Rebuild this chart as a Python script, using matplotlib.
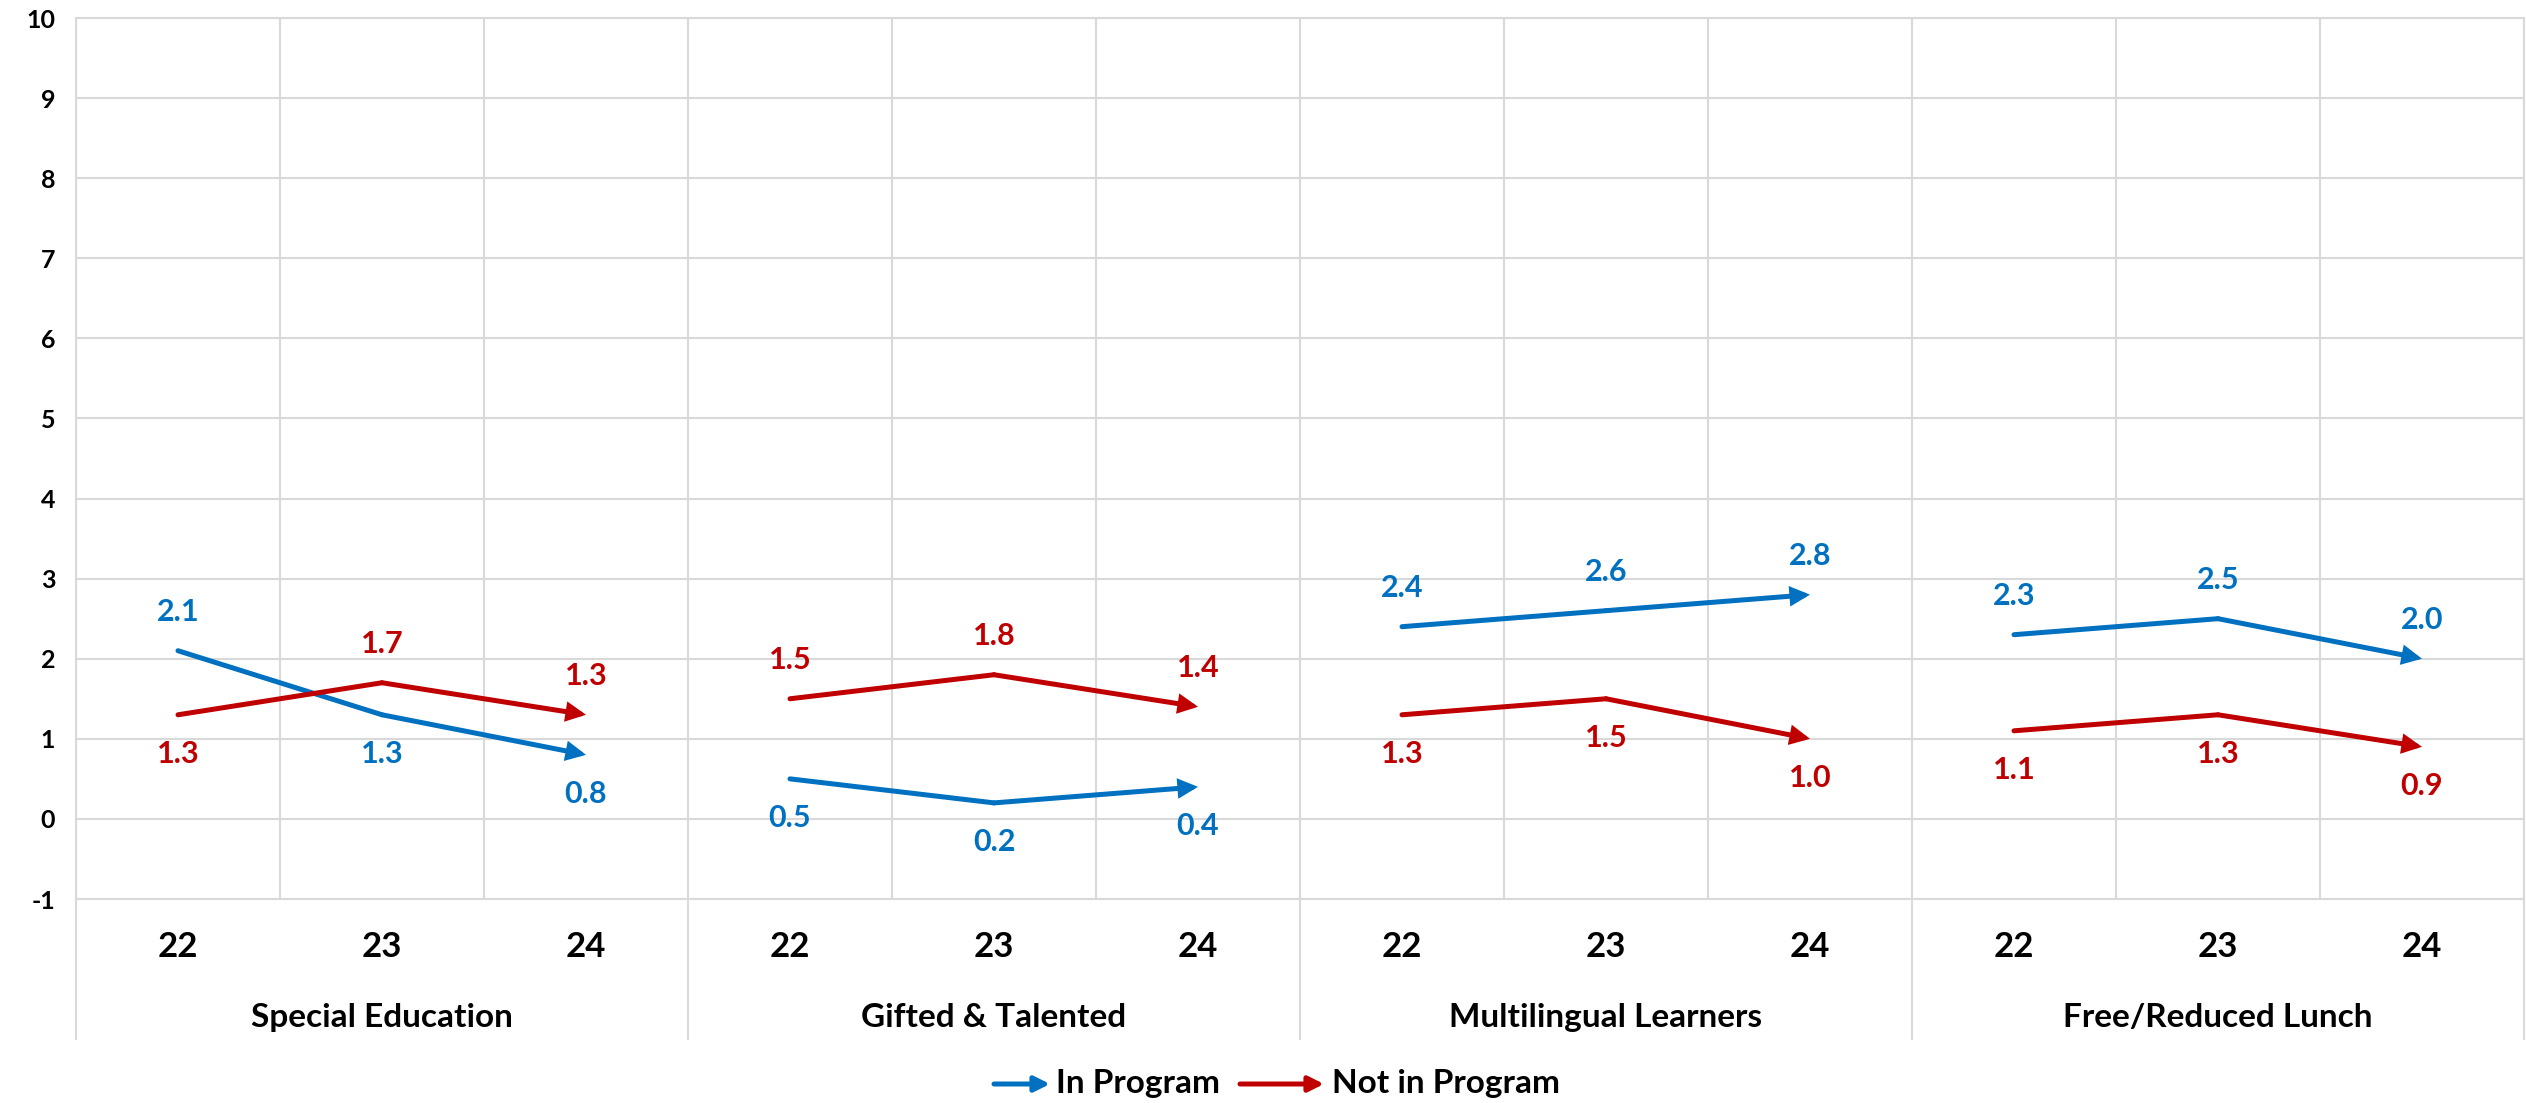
import matplotlib
matplotlib.use('Agg')
import matplotlib.pyplot as plt
import matplotlib.transforms as mtransforms

plt.rcParams['font.family'] = ['Lato', 'DejaVu Sans']
plt.rcParams['font.weight'] = 'bold'

groups = ['Special Education', 'Gifted & Talented', 'Multilingual Learners', 'Free/Reduced Lunch']
years = ['22', '23', '24']
in_prog = [[2.1, 1.3, 0.8], [0.5, 0.2, 0.4], [2.4, 2.6, 2.8], [2.3, 2.5, 2.0]]
not_prog = [[1.3, 1.7, 1.3], [1.5, 1.8, 1.4], [1.3, 1.5, 1.0], [1.1, 1.3, 0.9]]
series_names = ['In Program', 'Not in Program']

BLUE = '#0070C0'
RED = '#C00000'
GRID = '#d9d9d9'
LW = 3.6

fig = plt.figure(figsize=(25.26, 11.03), dpi=100)
ax = fig.add_axes([76 / 2526, 1 - 899 / 1103, (2524 - 76) / 2526, (899 - 18) / 1103])

ax.set_xlim(0, 12)
ax.set_ylim(-1, 10)
ax.set_yticks(range(-1, 11))
ax.set_yticklabels([str(v) for v in range(-1, 11)], fontsize=18, fontweight='bold')
ax.set_xticks(range(13))
ax.set_xticklabels([])
ax.tick_params(length=0)
ax.tick_params(axis='y', pad=15)
ax.grid(True, color=GRID, lw=1.5)
ax.set_axisbelow(True)
for s in ax.spines.values():
    s.set_color(GRID)
    s.set_linewidth(1.5)

trans = mtransforms.blended_transform_factory(ax.transData, ax.transAxes)

# separators between groups, extending under the labels
for g in range(len(groups) + 1):
    ax.plot([g * 3, g * 3], [0, -0.159], color=GRID, lw=1.5, transform=trans, clip_on=False)

def draw_series(xs, ys, color):
    ax.plot(xs[:2], ys[:2], color=color, lw=LW, solid_capstyle='round', solid_joinstyle='round')
    ax.annotate('', xy=(xs[2], ys[2]), xytext=(xs[1], ys[1]),
                arrowprops=dict(arrowstyle='-|>,head_length=0.9,head_width=0.45',
                                color=color, lw=LW, shrinkA=0, shrinkB=0,
                                mutation_scale=10, joinstyle='miter'))

for gi, grp in enumerate(groups):
    xs = [gi * 3 + k + 0.5 for k in range(3)]
    draw_series(xs, in_prog[gi], BLUE)
    draw_series(xs, not_prog[gi], RED)
    for k in range(3):
        a, b = in_prog[gi][k], not_prog[gi][k]
        for val, other, col in [(a, b, BLUE), (b, a, RED)]:
            off = 28 if val > other else -28
            ax.annotate(f'{val:.1f}', xy=(xs[k], val), xytext=(0, off), textcoords='offset points',
                        ha='center', va='center', color=col, fontsize=22, fontweight='bold')
        ax.text(xs[k], -0.0545, years[k], transform=trans, ha='center', va='center',
                fontsize=25, fontweight='bold')
    ax.text(gi * 3 + 1.5, -0.135, grp, transform=trans, ha='center', va='center',
            fontsize=24, fontweight='bold')

# legend
for (x0, x1, tx), col, name in zip([(994, 1050, 1056), (1240, 1324, 1332)], [BLUE, RED], series_names):
    ax.annotate('', xy=(x1, 19), xytext=(x0, 19), xycoords='figure pixels', textcoords='figure pixels',
                arrowprops=dict(arrowstyle='-|>,head_length=0.9,head_width=0.45',
                                color=col, lw=LW, shrinkA=0, shrinkB=0, mutation_scale=10))
    fig.text(tx / 2526, 19 / 1103, name, ha='left', va='center', fontsize=24, fontweight='bold')

fig.savefig('out.png', dpi=100, facecolor='white')
